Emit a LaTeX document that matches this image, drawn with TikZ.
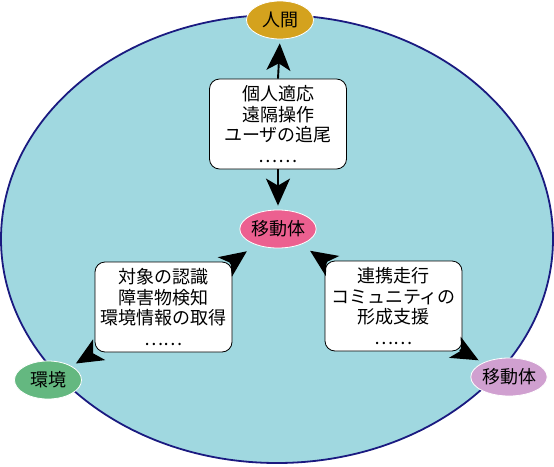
\documentclass[tikz,border=0pt]{standalone}
\usepackage{fontspec}
\newfontfamily\jpfont{Noto Sans CJK JP}
\usetikzlibrary{arrows.meta,shapes.geometric}
\definecolor{fondo}{HTML}{A0D8E0}
\definecolor{borde}{HTML}{1A1A80}
\definecolor{oro}{HTML}{D4A21E}
\definecolor{rosa}{HTML}{EC6090}
\definecolor{verde}{HTML}{64B880}
\definecolor{lila}{HTML}{D0A0D0}
\tikzset{
	flecha/.style={line width=1.9pt,-{Stealth[length=27pt,width=24pt,inset=7pt]}}
}
\begin{document}
\begin{tikzpicture}[
	font=\jpfont\fontsize{18}{20.5}\selectfont,
	etiqueta/.style={ellipse,draw=white,line width=0.8pt,minimum width=67pt,minimum height=38pt,inner sep=0pt},
	caja/.style={draw,fill=white,rounded corners=10pt,line width=0.8pt,minimum width=137pt,minimum height=90pt,align=center,inner sep=2pt}]
		
		\useasboundingbox (0pt,0pt) rectangle (554pt,-466pt);
		
		% Fondo
		\draw[borde,line width=1.8pt,fill=fondo] (277pt,-239pt) ellipse [x radius=276pt,y radius=224pt];
		
		% Etiquetas
		\node[etiqueta,fill=oro] (ningen) at (280pt,-20pt) {人間};
		\node[etiqueta,fill=rosa] (idou) at (278pt,-229pt) {移動体};
		\node[etiqueta,fill=verde] (kankyou) at (48pt,-380pt) {環境};
		\node[etiqueta,fill=lila] (idou2) at (509pt,-377pt) {移動体};
		
		% Cajas
		\node[caja] (kHito) at (278pt,-124pt) {個人適応\\遠隔操作\\ユーザの追尾\\……};
		\node[caja] (kKankyou) at (163.5pt,-307pt) {対象の認識\\障害物検知\\環境情報の取得\\……};
		\node[caja] (kRenkei) at (393.5pt,-306pt) {連携走行\\コミュニティの\\形成支援\\……};
		
		% Flechas
		\draw[flecha,shorten >=4pt] (kHito.north) -- (ningen.south);
		\draw[flecha,shorten >=4pt] (kHito.south) -- (idou.north);
		\draw[flecha,shorten <=3pt,shorten >=11pt] (kKankyou.north east) -- (idou);
		\draw[flecha,shorten <=3pt,shorten >=11pt] (kRenkei.north west) -- (idou);
		\draw[flecha,shorten <=3pt,shorten >=5pt] (kKankyou.south west) -- (kankyou);
		\draw[flecha,shorten <=3pt,shorten >=5pt] (kRenkei.south east) -- (idou2);
		
	\end{tikzpicture}
\end{document}
